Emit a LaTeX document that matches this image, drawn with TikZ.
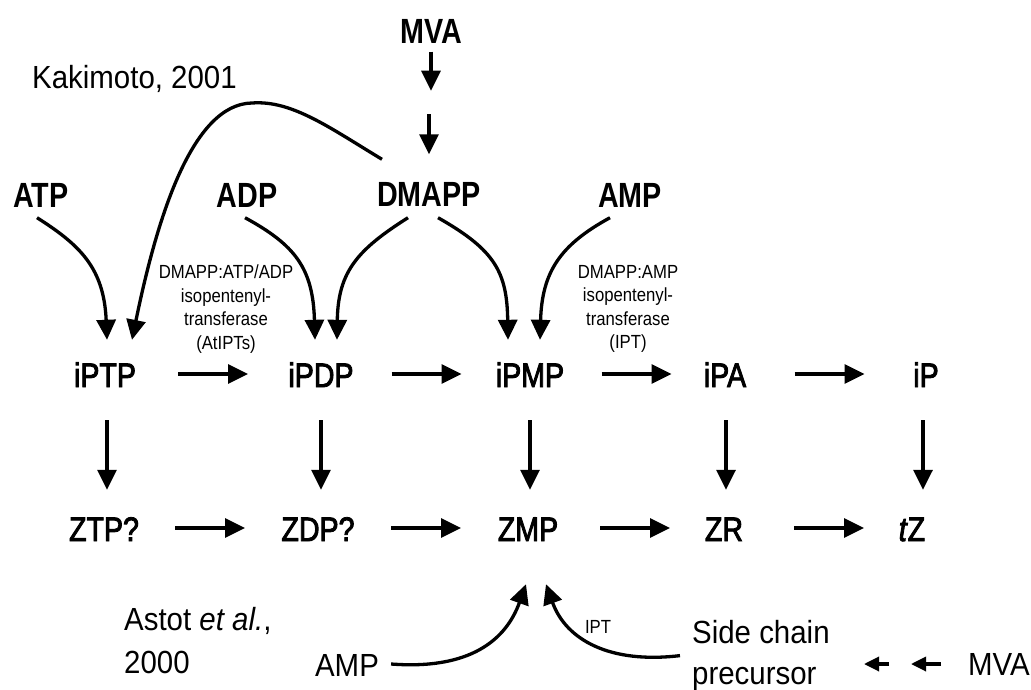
\documentclass[tikz,border=0pt]{standalone}
\usepackage{fontspec}
\setmainfont{Liberation Sans}
\newfontfamily\topfont[FakeStretch=0.82]{Liberation Sans Bold}
\newfontfamily\metfont[FakeStretch=0.84,FakeBold=2.5]{Liberation Sans}
\newfontfamily\plainfont[FakeStretch=0.92]{Liberation Sans}
\newfontfamily\smallfont[FakeStretch=0.88]{Liberation Sans}
\usetikzlibrary{arrows.meta,calc}

\tikzset{
  toplbl/.style={inner sep=0pt, text height=25pt, text depth=0pt,
    font=\topfont\fontsize{35}{40}\selectfont},
  metlbl/.style={inner sep=0pt, text height=24pt, text depth=0pt,
    font=\metfont\fontsize{34}{40}\selectfont},
  reflbl/.style={inner sep=0pt, anchor=west, text height=23pt, text depth=0pt,
    font=\plainfont\fontsize{32}{40}\selectfont},
  botlbl/.style={inner sep=0pt, text height=23pt, text depth=0pt,
    font=\plainfont\fontsize{32}{40}\selectfont},
  enzlbl/.style={inner sep=0pt, align=center,
    font=\smallfont\fontsize{19}{23.5}\selectfont},
  arr/.style={line width=3.3pt, -{Triangle[length=20pt,width=19pt]}},
  arrsmall/.style={line width=3.3pt, -{Triangle[length=15pt,width=14pt]}},
}

\begin{document}
\begin{tikzpicture}[x=1pt,y=-1pt]
\useasboundingbox (0,0) rectangle (1031,690);
\fill[white] (0,0) rectangle (1031,690);

% precursors
\node[toplbl] (MVA)   at (431,31)  {MVA};
\node[toplbl] (DMAPP) at (429,194) {DMAPP};
\node[toplbl] (ATP)   at (41,195)  {ATP};
\node[toplbl] (ADP)   at (247,195) {ADP};
\node[toplbl] (AMP)   at (630,195) {AMP};

% isopentenyl adenine nucleotides
\node[metlbl] (iPTP) at (105,375) {iPTP};
\node[metlbl] (iPDP) at (321,375) {iPDP};
\node[metlbl] (iPMP) at (530,375) {iPMP};
\node[metlbl] (iPA)  at (725,375) {iPA};
\node[metlbl] (iP)   at (926,375) {iP};

% zeatin nucleotides
\node[metlbl] (ZTP) at (104,529) {ZTP?};
\node[metlbl] (ZDP) at (318,529) {ZDP?};
\node[metlbl] (ZMP) at (528,529) {ZMP};
\node[metlbl] (ZR)  at (724,529) {ZR};
\node[metlbl] (tZ)  at (912,529) {\textit{t}Z};

% references
\node[reflbl] (kak)  at (32,77)   {Kakimoto, 2001};
\node[reflbl] (ast)  at (124,619) {Astot \textit{et al.},};
\node[reflbl] (asty) at (124,662) {2000};

% enzymes
\node[enzlbl] (enzA) at (226,309) {DMAPP:ATP/ADP\\isopentenyl-\\transferase\\(AtIPTs)};
\node[enzlbl] (enzB) at (628,309) {DMAPP:AMP\\isopentenyl-\\transferase\\(IPT)};
\node[enzlbl] (ipt)  at (598,627) {IPT};

% alternative route at the bottom
\node[botlbl] (AMPb) at (347,665) {AMP};
\node[botlbl] (MVAb) at (999,664) {MVA};
\node[inner sep=0pt, anchor=north west, align=left,
      font=\plainfont\fontsize{32}{41}\selectfont] (side) at (692,620)
      {Side chain\\precursor};

% MVA -> DMAPP
\draw[arr] ([yshift=-8pt]MVA.south) -- ([yshift=-47pt]MVA.south);
\draw[arr] ([yshift=67pt]DMAPP.north) -- ([yshift=27pt]DMAPP.north);

% curved feeds into the nucleotides
\draw[arr] ([xshift=-4pt,yshift=-10pt]ATP.south)
  .. controls (80,245) and (104,268) .. ([xshift=2pt,yshift=23pt]iPTP.north);
\draw[arr] ([xshift=-47pt,yshift=22pt]DMAPP.north)
  .. controls (330,128) and (292,100) .. (252,103)
  .. controls (192,104) and (157,218) .. ([xshift=27pt,yshift=23pt]iPTP.north);
\draw[arr] ([xshift=-2pt,yshift=-10pt]ADP.south)
  .. controls (295,245) and (313,268) .. ([xshift=-6pt,yshift=23pt]iPDP.north);
\draw[arr] ([xshift=-21pt,yshift=-11pt]DMAPP.south)
  .. controls (357,250) and (338,272) .. ([xshift=16pt,yshift=23pt]iPDP.north);
\draw[arr] ([xshift=9pt,yshift=-11pt]DMAPP.south)
  .. controls (495,250) and (507,272) .. ([xshift=-22pt,yshift=23pt]iPMP.north);
\draw[arr] ([xshift=-20pt,yshift=-10pt]AMP.south)
  .. controls (560,245) and (542,272) .. ([xshift=10pt,yshift=23pt]iPMP.north);

% horizontal steps, upper row
\draw[arr] ($(iPTP)!.5!(iPDP)+(-35pt,1pt)$) -- ($(iPTP)!.5!(iPDP)+(35pt,1pt)$);
\draw[arr] ($(iPDP)!.5!(iPMP)+(-34pt,1pt)$) -- ($(iPDP)!.5!(iPMP)+(36pt,1pt)$);
\draw[arr] ($(iPMP)!.5!(iPA)+(-26pt,1pt)$) -- ($(iPMP)!.5!(iPA)+(44pt,1pt)$);
\draw[arr] ($(iPA)!.5!(iP)+(-31pt,1pt)$) -- ($(iPA)!.5!(iP)+(39pt,1pt)$);

% horizontal steps, lower row
\draw[arr] ($(ZTP)!.5!(ZDP)+(-36pt,1pt)$) -- ($(ZTP)!.5!(ZDP)+(34pt,1pt)$);
\draw[arr] ($(ZDP)!.5!(ZMP)+(-32pt,1pt)$) -- ($(ZDP)!.5!(ZMP)+(38pt,1pt)$);
\draw[arr] ($(ZMP)!.5!(ZR)+(-26pt,1pt)$) -- ($(ZMP)!.5!(ZR)+(44pt,1pt)$);
\draw[arr] ($(ZR)!.5!(tZ)+(-24pt,1pt)$) -- ($(ZR)!.5!(tZ)+(46pt,1pt)$);

% hydroxylation steps
\draw[arr] ([xshift=2pt,yshift=-33pt]iPTP.south) -- ($(iPTP.south |- ZTP.north)+(2pt,27pt)$);
\draw[arr] ([yshift=-33pt]iPDP.south) -- ($(iPDP.south |- ZDP.north)+(0pt,27pt)$);
\draw[arr] ([yshift=-33pt]iPMP.south) -- ($(iPMP.south |- ZMP.north)+(0pt,27pt)$);
\draw[arr] ([xshift=1pt,yshift=-33pt]iPA.south) -- ($(iPA.south |- ZR.north)+(1pt,27pt)$);
\draw[arr] ([xshift=-3pt,yshift=-33pt]iP.south) -- ($(iP.south |- tZ.north)+(-3pt,27pt)$);

% direct route to ZMP
\draw[arr] ([xshift=12pt,yshift=1pt]AMPb.east)
  .. controls (470,670) and (506,640) .. ([xshift=-2pt,yshift=-43pt]ZMP.south);
\draw[arr] ([xshift=-12pt]side.west)
  .. controls (610,664) and (566,640) .. ([xshift=18pt,yshift=-43pt]ZMP.south);
\draw[arrsmall] ([xshift=-27pt]MVAb.west) -- ([xshift=-57pt]MVAb.west);
\draw[arrsmall] ([xshift=-79pt]MVAb.west) -- ([xshift=-104pt]MVAb.west);
\end{tikzpicture}
\end{document}
